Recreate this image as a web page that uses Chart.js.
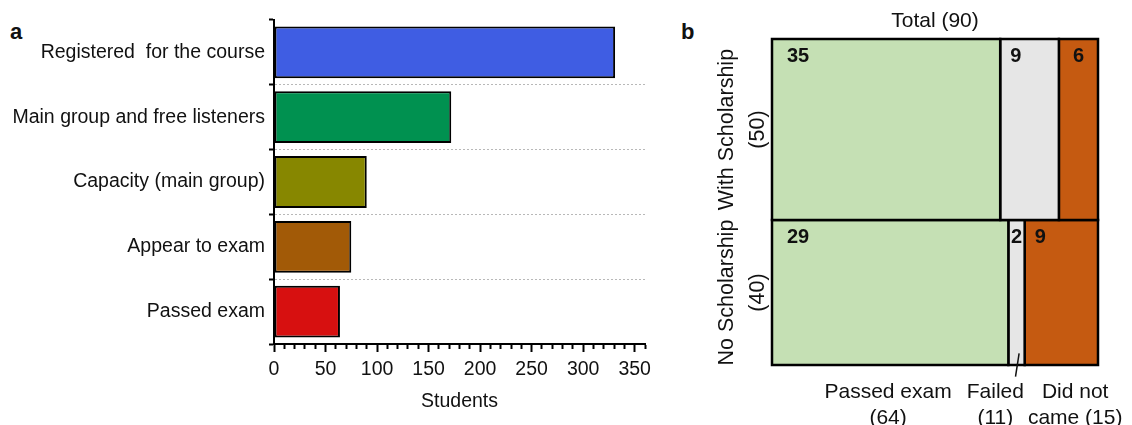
<!DOCTYPE html>
<html>
<head>
<meta charset="utf-8">
<script src="https://cdn.jsdelivr.net/npm/chart.js@4.4.1/dist/chart.umd.min.js"></script>
<style>
  body { margin: 0; background: #fff; width: 1132px; height: 425px; position: relative; overflow: hidden; font-family: "Liberation Sans", Arial, sans-serif; }
  .panel { position: absolute; top: 0; height: 425px; }
  #left { left: 0; width: 660px; }
  #right { left: 660px; width: 472px; }
  .tag { position: absolute; font-weight: bold; font-size: 22px; line-height: 1; color: #111; }
</style>
</head>
<body>
<div class="tag" style="left:10px;top:21px">a</div>
<div class="tag" style="left:681px;top:21px">b</div>
<div class="panel" id="left"><canvas id="barChart" width="660" height="425"></canvas></div>
<div class="panel" id="right"><canvas id="mosaicChart" width="472" height="425"></canvas></div>

<script>
// panel a: students at each stage
const barCategories = ['Registered  for the course', 'Main group and free listeners', 'Capacity (main group)', 'Appear to exam', 'Passed exam'];
const barValues = [331, 172, 90, 75, 64];
const barColors = ['#3f5de3', '#009150', '#878700', '#a25a07', '#d71010'];
const studentTicks = [0, 50, 100, 150, 200, 250, 300, 350];

// panel b: mosaic of scholarship vs exam outcome
const rowLabels = [['With Scholarship', '(50)'], ['No Scholarship', '(40)']];
const withScholarship = [35, 9, 6];
const noScholarship = [29, 2, 9];
const outcomeLabels = [['Passed exam', '(64)'], ['Failed', '(11)'], ['Did not', 'came (15)']];
const outcomeColors = ['#c5e0b4', '#e6e6e6', '#c55a11'];
const totalLabel = 'Total (90)';

Chart.defaults.font.family = '"Liberation Sans", Arial, sans-serif';
Chart.defaults.color = '#111';

new Chart(document.getElementById('barChart'), {
    type: 'bar',
    data: {
        labels: barCategories,
        datasets: [{
            data: barValues,
            backgroundColor: barColors,
            borderColor: '#000',
            borderWidth: 2,
            borderSkipped: false,
            barPercentage: 0.8,
            categoryPercentage: 1
        }]
    },
    options: {
        indexAxis: 'y',
        responsive: false,
        animation: false,
        layout: { padding: { top: 20, right: 15, bottom: 0, left: 0 } },
        plugins: { legend: { display: false }, tooltip: { enabled: false } },
        scales: {
            x: {
                type: 'linear',
                min: 0,
                max: 360,
                ticks: {
                    stepSize: 10,
                    maxTicksLimit: 100,
                    autoSkip: false,
                    maxRotation: 0,
                    padding: 6,
                    font: { size: 19.5 },
                    callback: v => studentTicks.includes(v) ? v : ''
                },
                grid: {
                    drawOnChartArea: false,
                    tickLength: 8,
                    tickWidth: 2,
                    tickColor: '#000',
                    tickBorderDash: ctx => (ctx.tick && studentTicks.includes(ctx.tick.value)) ? [] : [4, 20]
                },
                border: { color: '#000', width: 2 },
                title: { display: true, text: 'Students', font: { size: 19.5 }, padding: { top: 0, bottom: 12 } },
                afterFit: s => { s.height = 81; }
            },
            y: {
                ticks: { font: { size: 19.5 }, padding: 4 },
                grid: {
                    offset: true,
                    tickLength: 5,
                    tickWidth: 2,
                    tickColor: '#000',
                    lineWidth: 1,
                    color: ctx => (ctx.index === 0 || ctx.index >= barCategories.length) ? 'rgba(0,0,0,0)' : '#b8b8b8'
                },
                border: { color: '#000', width: 2, dash: [2, 2] },
                afterFit: s => { s.width = 274; }
            }
        }
    }
});

// one closed polygon per cell, widths are shares of the row total
function cellDatasets(counts, axisId) {
    const total = counts.reduce((a, b) => a + b, 0);
    let start = 0;
    return counts.map((n, i) => {
        const x0 = start / total;
        const x1 = (start + n) / total;
        start += n;
        return {
            count: n,
            xAxisID: 'x',
            yAxisID: axisId,
            data: [{x: x0, y: 0}, {x: x1, y: 0}, {x: x1, y: 1}, {x: x0, y: 1}, {x: x0, y: 0}],
            backgroundColor: outcomeColors[i],
            borderColor: '#000',
            borderWidth: 2.5,
            borderJoinStyle: 'miter',
            borderCapStyle: 'square',
            fill: 'shape',
            pointRadius: 0,
            tension: 0,
            clip: false
        };
    });
}

// leader line from the tiny "Failed" cell down to its label
const failedMid = (noScholarship[0] + noScholarship[1] / 2) / (noScholarship[0] + noScholarship[1] + noScholarship[2]);
const leader = {
    xAxisID: 'x',
    yAxisID: 'yN',
    order: -1,
    data: [{x: failedMid + 0.008, y: 0.08}, {x: failedMid - 0.003, y: -0.08}],
    borderColor: '#111',
    borderWidth: 1.5,
    pointRadius: 0,
    fill: false,
    clip: false
};

const outcomeAnchors = [0.356, 0.685, 0.93];

const cellNumbers = {
    id: 'cellNumbers',
    afterDatasetsDraw(chart) {
        const ctx = chart.ctx;
        ctx.save();
        ctx.font = 'bold 20px "Liberation Sans", Arial, sans-serif';
        ctx.fillStyle = '#111';
        ctx.textBaseline = 'middle';
        chart.data.datasets.forEach((ds, i) => {
            if (ds.count === undefined) return;
            const pts = chart.getDatasetMeta(i).data;
            const left = pts[0].x, right = pts[1].x, top = pts[2].y;
            const w = right - left;
            const text = String(ds.count);
            const tw = ctx.measureText(text).width;
            const x = w < 45 ? left + (w - tw) / 2 : left + (w > 100 ? 15 : 10);
            ctx.fillText(text, x, top + 17);
        });
        ctx.restore();
    }
};

const hidden = { display: false, drawTicks: false };

new Chart(document.getElementById('mosaicChart'), {
    type: 'line',
    data: {
        datasets: [...cellDatasets(withScholarship, 'yW'), ...cellDatasets(noScholarship, 'yN'), leader]
    },
    options: {
        responsive: false,
        animation: false,
        layout: { padding: { top: 0, right: 34, bottom: 0, left: 0 } },
        plugins: { legend: { display: false }, tooltip: { enabled: false } },
        scales: {
            x: {
                type: 'linear',
                position: 'bottom',
                min: 0,
                max: 1,
                afterBuildTicks: s => { s.ticks = outcomeAnchors.map(v => ({value: v})); },
                ticks: {
                    autoSkip: false,
                    maxRotation: 0,
                    padding: 14,
                    font: { size: 21, lineHeight: 1.24 },
                    callback: (v, i) => outcomeLabels[i]
                },
                grid: hidden,
                border: { display: false },
                afterFit: s => { s.height = 60; s.paddingLeft = 0; s.paddingRight = 0; }
            },
            xTop: {
                type: 'linear',
                position: 'top',
                min: 0,
                max: 1,
                ticks: { display: false },
                grid: hidden,
                border: { display: false },
                title: { display: true, text: totalLabel, font: { size: 21 }, padding: { top: 9, bottom: 0 } },
                afterFit: s => { s.height = 39; }
            },
            yW: {
                type: 'linear',
                position: 'left',
                stack: 'rows',
                stackWeight: withScholarship.reduce((a, b) => a + b, 0),
                weight: 1,
                min: 0,
                max: 1,
                ticks: { display: false },
                grid: hidden,
                border: { display: false },
                title: { display: true, text: rowLabels[0], font: { size: 21.5, lineHeight: 1.45 }, padding: { top: 51, bottom: 0 } },
                afterFit: s => { s.width = 112; }
            },
            yN: {
                type: 'linear',
                position: 'left',
                stack: 'rows',
                stackWeight: noScholarship.reduce((a, b) => a + b, 0),
                weight: 0,
                min: 0,
                max: 1,
                ticks: { display: false },
                grid: hidden,
                border: { display: false },
                title: { display: true, text: rowLabels[1], font: { size: 21.5, lineHeight: 1.45 }, padding: { top: 51, bottom: 0 } },
                afterFit: s => { s.width = 112; }
            }
        }
    },
    plugins: [cellNumbers]
});
</script>
</body>
</html>
